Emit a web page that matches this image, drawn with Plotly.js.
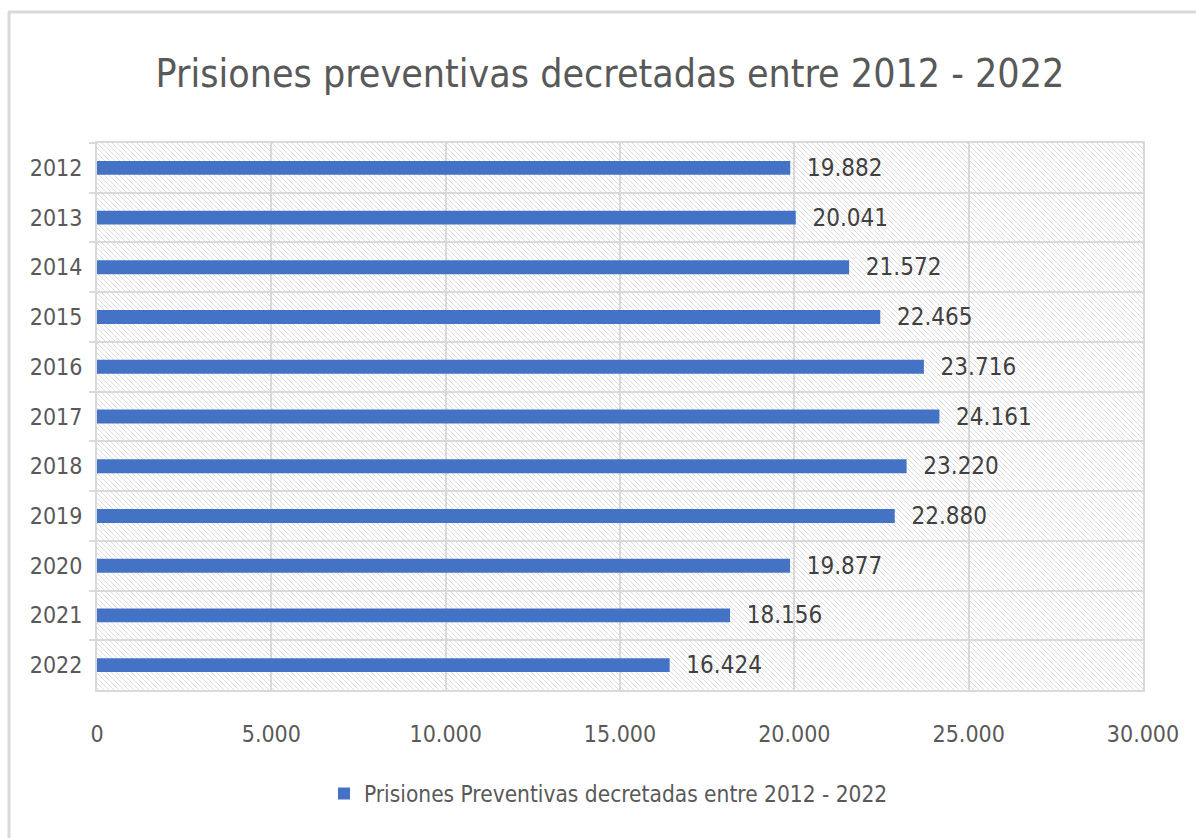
<!DOCTYPE html>
<html>
<head>
<meta charset="utf-8">
<script src="https://cdn.plot.ly/plotly-3.0.1.min.js"></script>
<style>html,body{margin:0;padding:0;background:#fff;}#chart{width:1196px;height:838px;}</style>
</head>
<body>
<div id="chart"></div>
<script>
const years = ["2012","2013","2014","2015","2016","2017","2018","2019","2020","2021","2022"];
const values = [19882, 20041, 21572, 22465, 23716, 24161, 23220, 22880, 19877, 18156, 16424];
const seriesName = "Prisiones Preventivas decretadas entre 2012 - 2022";
const chartTitle = "Prisiones preventivas decretadas entre 2012 - 2022";
const xTicks = [0, 5000, 10000, 15000, 20000, 25000, 30000];

const FONT = "'Liberation Sans Narrow', 'Arial Narrow', 'DejaVu Sans Condensed', sans-serif";
const W = 1196, H = 838;
const M = {l: 97, r: 53, t: 143, b: 148};
const pw = W - M.l - M.r, ph = H - M.t - M.b;

const hatch = '<svg xmlns="http://www.w3.org/2000/svg" width="' + pw + '" height="' + ph + '" viewBox="0 0 ' + pw + ' ' + ph + '" preserveAspectRatio="none">' +
  '<defs><pattern id="p" width="5" height="5" patternUnits="userSpaceOnUse">' +
  '<path d="M-1,-1 L6,6 M-1,4 L1,6 M4,-1 L6,1" stroke="#dedede" stroke-width="1"/></pattern></defs>' +
  '<rect width="100%" height="100%" fill="#ffffff"/><rect width="100%" height="100%" fill="url(#p)"/></svg>';

const trace = {
  type: 'bar',
  orientation: 'h',
  y: years,
  x: values,
  name: seriesName,
  marker: {color: '#4472C4'},
  texttemplate: '\u00a0\u00a0%{x:,d}',
  textposition: 'outside',
  constraintext: 'none',
  cliponaxis: false,
  textfont: {family: FONT, size: 24, color: '#404040'},
  hoverinfo: 'skip'
};

const layout = {
  width: W, height: H,
  margin: M,
  paper_bgcolor: '#ffffff',
  plot_bgcolor: 'rgba(0,0,0,0)',
  separators: ',.',
  bargap: 0.72,
  font: {family: FONT, color: '#595959'},
  title: {
    text: chartTitle,
    font: {family: FONT, size: 39, color: '#595959'},
    x: 0.51, xanchor: 'center',
    y: 0.913, yanchor: 'middle', yref: 'container'
  },
  xaxis: {
    range: [0, 30000],
    tickvals: xTicks,
    tickformat: ',d',
    showgrid: true, gridcolor: '#d9d9d9', gridwidth: 2,
    showline: true, mirror: true, linecolor: '#d9d9d9', linewidth: 2,
    zeroline: false,
    ticks: '',
    ticklabelstandoff: 22,
    tickfont: {family: FONT, size: 23, color: '#595959'},
    fixedrange: true
  },
  yaxis: {
    type: 'category',
    autorange: 'reversed',
    tickson: 'boundaries',
    ticks: 'outside', ticklen: 6, tickcolor: '#d9d9d9', tickwidth: 2,
    showgrid: true, gridcolor: '#d9d9d9', gridwidth: 2,
    showline: true, mirror: true, linecolor: '#d9d9d9', linewidth: 2,
    ticklabelstandoff: 8,
    tickfont: {family: FONT, size: 23, color: '#595959'},
    fixedrange: true
  },
  showlegend: true,
  legend: {
    orientation: 'h',
    x: 0.489, xanchor: 'center',
    y: -0.19, yanchor: 'middle',
    font: {family: FONT, size: 22.5, color: '#595959'},
    bgcolor: 'rgba(0,0,0,0)'
  },
  images: [{
    source: 'data:image/svg+xml;charset=utf-8,' + encodeURIComponent(hatch),
    xref: 'paper', yref: 'paper',
    x: 0, y: 1, sizex: 1, sizey: 1,
    xanchor: 'left', yanchor: 'top',
    sizing: 'stretch', layer: 'below'
  }],
  shapes: [
    {type: 'line', xref: 'paper', yref: 'paper',
     x0: (8 - M.l) / pw, x1: (W + 5 - M.l) / pw,
     y0: (H - M.b - 12) / ph, y1: (H - M.b - 12) / ph,
     line: {color: '#d9d9d9', width: 3}},
    {type: 'line', xref: 'paper', yref: 'paper',
     x0: (9 - M.l) / pw, x1: (9 - M.l) / pw,
     y0: (H - M.b - 12) / ph, y1: (H - M.b - H - 5) / ph,
     line: {color: '#d9d9d9', width: 3}}
  ]
};

Plotly.newPlot('chart', [trace], layout, {displayModeBar: false, staticPlot: true});
</script>
</body>
</html>
